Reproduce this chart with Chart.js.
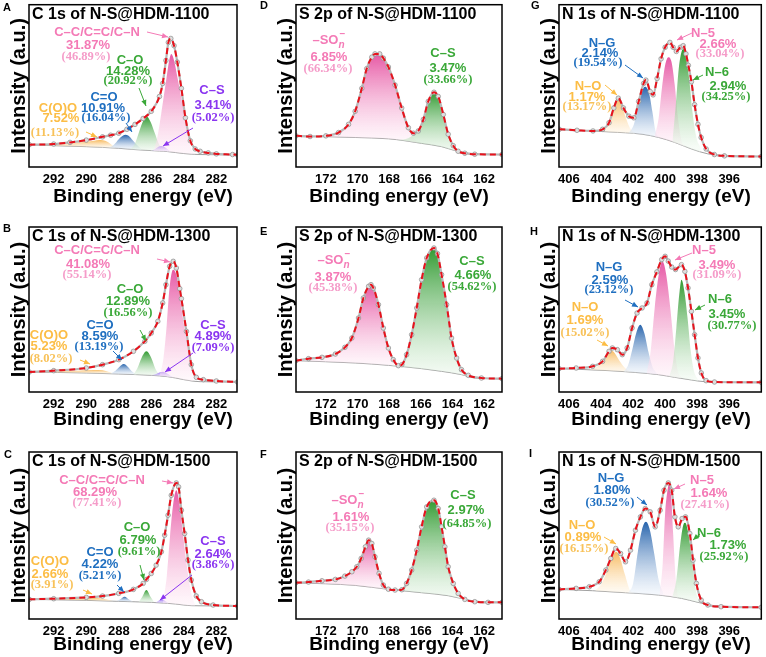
<!DOCTYPE html>
<html>
<head>
<meta charset="utf-8">
<script src="https://cdn.jsdelivr.net/npm/chart.js"></script>
<style>
  body { margin: 0; background: #fff; width: 766px; height: 657px; position: relative; overflow: hidden; }
  canvas { position: absolute; }
</style>
</head>
<body>
<canvas id="pA"></canvas><canvas id="pD"></canvas><canvas id="pG"></canvas>
<canvas id="pB"></canvas><canvas id="pE"></canvas><canvas id="pH"></canvas>
<canvas id="pC"></canvas><canvas id="pF"></canvas><canvas id="pI"></canvas>
<script>
// x ranges (binding energy, eV) and tick labels
const rangeC1s = [280.73, 293.52];
const rangeS2p = [160.87, 173.89];
const rangeN1s = [394.0, 406.62];
const ticksC1s = [292, 290, 288, 286, 284, 282];
const ticksS2p = [172, 170, 168, 166, 164, 162];
const ticksN1s = [406, 404, 402, 400, 398, 396];

// ---- A: C 1s, HDM-1100 ----
const envA = [[293.5,13.6],[292,14],[291,15],[290,16.4],[289,18.4],[288.5,19.4],[288,20.6],[287.5,23],[287,26],[286.5,29.6],[286,34],[285.5,43],[285.3,51],[285.1,65],[284.95,76],[284.8,78.4],[284.6,74],[284.4,64],[284.15,48],[283.9,30],[283.6,16],[283.3,11],[283,9.6],[282.5,8.6],[282,8],[281,7.6],[280.7,7.4]];
const baseA = [[293.5,13.6],[292,13],[290,12.4],[288,11.4],[287,10.6],[286,10],[285,9.4],[284.5,8.8],[284,8.2],[283.5,7.8],[283,7.6],[280.7,7.4]];
const a_coo = [[293.5,13.6],[292,13.9],[291,14.5],[290,15.4],[289.5,16],[289.2,16.4],[288.8,15.8],[288.5,14],[288.2,11.6]];
const a_cdo = [[288.6,11.8],[288.3,13.6],[288,17],[287.8,18.8],[287.6,19.6],[287.4,19],[287.2,17],[286.9,13.6],[286.6,10.8]];
const a_co  = [[287.3,10.8],[287,14.4],[286.8,20],[286.55,27],[286.3,31],[286.05,27.6],[285.8,21],[285.55,14.4],[285.2,9.6]];
const a_cs  = [[286,9.8],[285.75,11],[285.55,12.4],[285.38,12.8],[285.2,12.2],[285,10.8],[284.8,9.3]];
const a_cc  = [[285.85,9.8],[285.59,20],[285.28,40],[285.07,54],[284.9,65],[284.77,69],[284.6,65],[284.4,55],[284.15,42],[283.84,24],[283.54,11],[283.3,8]];

// ---- B: C 1s, HDM-1300 ----
const envB = [[293.5,12],[292,12.8],[290,14.4],[289,16.4],[288,19.4],[287.1,24.4],[286.4,30.4],[286,35.4],[285.6,42.4],[285.3,53.4],[285.1,64.4],[284.87,75.4],[284.65,78.4],[284.46,74.4],[284.25,62],[284.15,56],[283.84,36.4],[283.54,16.4],[283.23,8.8],[282.8,7.4],[282,6.6],[280.7,6]];
const baseB = [[293.5,12],[290,11.4],[288,10.8],[286,10],[285,9.2],[284.5,8.4],[284,7.4],[283.5,6.6],[283,6.2],[280.7,6]];
const b_coo = [[293.5,12],[292,12.4],[290.5,12.8],[289.5,13.2],[289,13],[288.6,12],[288.3,11]];
const b_cdo = [[288.5,11],[288.2,12.8],[287.95,15.2],[287.7,16.8],[287.45,15.2],[287.2,12.4],[286.9,10.6]];
const b_co  = [[287.1,10.4],[286.85,14.4],[286.6,20.4],[286.3,24.4],[286,20.4],[285.75,14],[285.45,9.6]];
const b_cs  = [[286,10],[285.7,10.8],[285.45,11.8],[285.28,12.2],[285.05,11.2],[284.8,9.6],[284.6,8.6]];
const b_cc  = [[285.5,9.2],[285.25,20.4],[285.05,40.4],[284.88,62.4],[284.66,73.4],[284.45,70],[284.25,58],[284.05,44],[283.84,32],[283.6,16],[283.4,8]];

// ---- C: C 1s, HDM-1500 ----
const envC = [[293.5,11.8],[292,12.2],[290,13],[289,13.8],[288,15.4],[287.1,17.8],[286.5,21.4],[286.3,23.8],[286,27.4],[285.7,32.4],[285.38,40.4],[285.18,50.4],[284.97,62.4],[284.77,74.4],[284.46,81.8],[284.32,79.4],[284.15,65.4],[283.95,51.4],[283.74,35.4],[283.54,23.4],[283.23,13.8],[282.92,10.4],[282.2,8.4],[280.7,7.8]];
const baseC = [[293.5,11.8],[290,11.2],[288,10.6],[286,10],[285,9.4],[284.5,9],[284,8.4],[283.5,8],[280.7,7.8]];
const c_coo = [[293.5,11.8],[292,12],[290.5,12.4],[289.5,12.6],[289,12.2],[288.6,11.4],[288.3,10.6]];
const c_cdo = [[288.2,10.6],[287.95,11.6],[287.64,13.4],[287.35,11.6],[287.1,10.4]];
const c_co  = [[286.8,10],[286.55,13.4],[286.3,17.4],[286.05,13.4],[285.8,9.8]];
const c_cs  = [[285.8,9.6],[285.55,11],[285.38,11.8],[285.15,10.8],[284.9,9.2]];
const c_cc  = [[285.3,9.4],[285.05,25.4],[284.85,49.4],[284.65,69.4],[284.46,77.4],[284.27,69.4],[284.05,51],[283.8,31],[283.55,16],[283.3,8.4]];

// ---- D: S 2p, HDM-1100 ----
const envD = [[173.89,19],[173,18.6],[172,19],[171.2,21],[170.57,26],[170.15,34],[169.73,48],[169.42,60],[169.1,67],[168.9,69],[168.6,69],[168.37,66.4],[168.05,61],[167.63,50],[167.21,36],[166.79,24],[166.47,20.6],[166.16,22],[165.84,29],[165.53,40],[165.17,45.6],[164.9,43],[164.58,32],[164.27,20],[163.95,13],[163.64,9.6],[163.22,8.4],[162.59,7.8],[160.87,7.6]];
const baseD = [[173.89,19],[170.15,18],[168.05,17.2],[167,16],[165.95,14.4],[164.69,12.4],[163.85,10],[163,8.4],[160.87,7.6]];
const d_so = [[173.89,19],[172,19.2],[171.2,21],[170.57,26],[170.15,34],[169.73,48],[169.42,60],[169.1,67],[168.9,69],[168.6,69],[168.37,66.4],[168.05,61],[167.63,50],[167.21,36],[166.79,23],[166.47,18],[166.2,15.5]];
const d_cs = [[167.4,16.3],[166.8,17.5],[166.47,19.5],[166.16,22],[165.84,29],[165.53,40],[165.17,45.6],[164.9,43],[164.58,32],[164.27,20],[163.95,13],[163.64,9.8],[163.2,8.5]];

// ---- E: S 2p, HDM-1300 ----
const envE = [[173.9,18.8],[173.1,20],[172.25,20.8],[171.4,22.8],[170.8,26.8],[170.36,32.4],[169.94,44.4],[169.63,56.4],[169.3,63.4],[169.15,64.4],[169,62.4],[168.68,52.4],[168.37,38.4],[168.05,26.4],[167.74,19.4],[167.42,15.8],[167.2,16.4],[166.9,22.4],[166.58,34.4],[166.26,50.4],[165.95,67.4],[165.63,80.4],[165.17,86.4],[164.95,83],[164.69,70.4],[164.37,52.4],[164.06,32.4],[163.74,20.4],[163.43,13.4],[163,10],[162.17,8.4],[160.87,8]];
const baseE = [[173.9,18.8],[170.15,17.4],[168.05,16],[165.95,14],[164.69,12.4],[163.43,10.4],[162.59,8.4],[160.87,8]];
const e_so = [[173.9,18.8],[173.1,20],[172.25,20.8],[171.4,22.8],[170.8,26.8],[170.36,32.4],[169.94,44.4],[169.63,56.4],[169.3,63.4],[169.15,64.4],[169,62.4],[168.68,52.4],[168.37,38.4],[168.05,26],[167.74,19],[167.42,16.2],[167.1,15.7]];
const e_cs = [[167.8,16.3],[167.42,16],[167.2,16.8],[166.9,22.4],[166.58,34.4],[166.26,50.4],[165.95,67.4],[165.63,80.4],[165.17,86.4],[164.95,83],[164.69,70.4],[164.37,52.4],[164.06,32.4],[163.74,20.4],[163.43,13.4],[163,10],[162.6,8.8]];

// ---- F: S 2p, HDM-1500 ----
const envF = [[173.9,21.8],[173.1,22.2],[172.25,23],[171.4,23.8],[170.8,25.8],[170.36,28.4],[170.05,31.4],[169.77,36.4],[169.5,43.4],[169.3,47.4],[169.1,45.4],[168.9,37.4],[168.64,27.4],[168.37,20.4],[168.05,17.9],[167.63,17.4],[167.2,17.6],[166.9,21.4],[166.58,29.4],[166.26,41.4],[165.95,55.4],[165.63,67.4],[165.17,71.4],[164.9,66.4],[164.69,55.4],[164.48,43.4],[164.27,31.4],[163.95,21.4],[163.64,15.4],[163.22,11.8],[162.59,10.4],[161.75,10],[160.87,10]];
const baseF = [[173.9,21.8],[170.15,20.2],[168.05,17.8],[165.95,15.8],[164.27,14],[163,11.4],[161.96,10.2],[160.87,10]];
const f_so = [[173.9,21.8],[173.1,22.2],[172.25,23],[171.4,23.8],[170.8,25.8],[170.36,28.4],[170.05,31.4],[169.77,36.4],[169.5,43.4],[169.3,47.4],[169.1,45.4],[168.9,37.4],[168.64,27.4],[168.37,20.4],[168.05,18],[167.8,17.6]];
const f_cs = [[167.5,17.3],[167.2,17.4],[166.9,21],[166.58,29.4],[166.26,41.4],[165.95,55.4],[165.63,67.4],[165.17,71.4],[164.9,66.4],[164.69,55.4],[164.48,43.4],[164.27,31.4],[163.95,21.4],[163.64,15.4],[163.22,11.8],[162.8,10.8]];

// ---- G: N 1s, HDM-1100 ----
const envG = [[406.6,23],[405.5,22.4],[404.5,22],[403.9,23],[403.5,27],[403.2,36],[402.92,42],[402.6,36],[402.26,31],[401.95,30],[401.65,40],[401.34,51],[401.2,53],[400.93,46],[400.75,44],[400.5,54],[400.25,66],[400,73],[399.7,76],[399.5,73],[399.3,70.5],[399.05,73],[398.87,74],[398.7,69],[398.55,62],[398.36,52],[398.16,38],[397.95,26],[397.75,18],[397.44,11],[396.93,7.6],[396.3,6.8],[394,6.4]];
const baseG = [[406.6,23],[403.5,21.4],[401.44,20],[400.4,18],[399.4,15],[398.36,11],[397.33,8],[396.3,6.8],[394,6.4]];
const g_no = [[404.1,21.8],[403.7,24.4],[403.4,30],[403.15,38],[402.92,42],[402.7,38],[402.45,30],[402.15,23],[401.8,20]];
const g_ng = [[402.3,20.4],[401.95,26],[401.7,36],[401.45,46],[401.25,49],[401,45],[400.8,34],[400.6,22],[400.4,18]];
const g_n5 = [[400.65,18.6],[400.4,30],[400.2,48],[400,62],[399.8,67],[399.6,64],[399.4,50],[399.2,30],[398.95,15],[398.75,13]];
const g_n6 = [[399.55,15],[399.35,36],[399.15,60],[398.95,71],[398.85,72],[398.7,67],[398.5,54],[398.3,34],[398.05,18],[397.8,12]];

// ---- H: N 1s, HDM-1300 ----
const envH = [[406.62,14],[405.55,14.4],[404.52,15.4],[403.9,18.4],[403.5,24.4],[403.29,26.4],[402.98,25.4],[402.67,22.4],[402.37,26.4],[402.06,38.4],[401.75,47.4],[401.44,50.4],[401.13,53.4],[400.83,64.4],[400.52,72],[400.21,79.5],[400,81.4],[399.8,78.5],[399.59,75],[399.35,73.5],[398.98,76.4],[398.77,72.4],[398.57,62.4],[398.36,48.4],[398.16,34.4],[397.95,20.4],[397.74,11.4],[397.44,6.8],[396.92,6],[394,5.8]];
const baseH = [[406.62,14],[403.5,12.8],[401.44,11.4],[400.42,10.4],[399.4,8.8],[398.36,7.2],[397.54,6.2],[394,5.8]];
const h_no = [[404.7,13.4],[404.2,15.4],[403.85,19.4],[403.6,23.4],[403.4,25.2],[403.15,23.4],[402.85,18.8],[402.5,14.4],[402.1,12],[401.8,11.4]];
const h_ng = [[402.6,12],[402.3,16.4],[402.05,25.4],[401.8,35.4],[401.55,40.4],[401.3,35.4],[401.05,24.4],[400.8,15.4],[400.5,10.8]];
const h_n5 = [[401.15,11.2],[400.9,24.4],[400.65,50.4],[400.4,70.4],[400.17,78.4],[399.95,71.4],[399.7,52.4],[399.45,28.4],[399.2,12.4],[399,8.8]];
const h_n6 = [[399.75,8.8],[399.5,18.4],[399.3,38.4],[399.12,58.4],[398.98,67.4],[398.8,60.4],[398.6,44.4],[398.4,24.4],[398.2,12.4],[397.95,7.4]];

// ---- I: N 1s, HDM-1500 ----
const envI = [[406.62,17.8],[405.55,18.4],[404.73,19.4],[404.11,22.4],[403.7,29.4],[403.39,36.4],[403.08,42.4],[402.78,39.4],[402.47,34.4],[402.16,41.4],[401.85,53.4],[401.54,61.4],[401.24,66.4],[400.93,64.4],[400.62,55.4],[400.31,65.4],[400.07,77.4],[399.8,81.8],[399.59,77.4],[399.39,61.4],[399.18,55.4],[398.94,60.4],[398.73,61.4],[398.46,51.4],[398.26,35.4],[398.05,21.4],[397.75,11.4],[397.33,8.4],[396.51,7.4],[394,7]];
const baseI = [[406.62,17.8],[404.52,17],[402.47,15.8],[400.41,14.4],[398.98,12.4],[397.95,10],[396.92,8],[394,7]];
const i_no = [[404.35,17.4],[403.95,21.4],[403.6,29.4],[403.3,37.4],[403.05,40.4],[402.8,36.4],[402.5,26.4],[402.2,17.4],[401.95,15.8]];
const i_ng = [[402.3,15.8],[402,21.4],[401.7,40.4],[401.45,53.4],[401.2,58.4],[400.95,53.4],[400.7,40.4],[400.4,23.4],[400.1,15]];
const i_n5 = [[400.35,14.6],[400.15,33.4],[400,63.4],[399.85,77.4],[399.76,81],[399.62,73.4],[399.5,51.4],[399.35,25.4],[399.2,13.4]];
const i_n6 = [[399.55,13],[399.3,23.4],[399.05,45.4],[398.85,57],[398.75,57.8],[398.55,51.4],[398.3,33.4],[398.05,15.4],[397.8,10.4]];

// ---- styling ----
const SANS = '"Liberation Sans", Arial, sans-serif';
const SERIF = '"Liberation Serif", "Times New Roman", serif';
const PAL = {
  pink:   { text: '#f47ab6', rel: '#f59cc9', top: 'rgba(229,80,160,0.95)', bot: 'rgba(255,238,247,0.45)' },
  green:  { text: '#3aa838', rel: '#3aa838', top: 'rgba(40,150,40,0.95)',  bot: 'rgba(236,248,236,0.45)' },
  blue:   { text: '#1f6fc0', rel: '#1f6fc0', top: 'rgba(28,92,168,0.95)',  bot: 'rgba(232,240,250,0.45)' },
  orange: { text: '#fcbd45', rel: '#f8c25a', top: 'rgba(246,175,70,0.85)', bot: 'rgba(255,246,230,0.45)' },
  purple: { text: '#8a35f0', rel: '#8a35f0', top: 'rgba(135,85,240,0.85)', bot: 'rgba(242,236,255,0.45)' }
};

function L(c, name, nx, ny, pct, px, py, rel, rx, ry, arrow) {
  return { c, name, nx, ny, pct, px, py, rel, rx, ry, arrow };
}

const labelsA = [
  L('pink','C–C/C=C/C–N',97,32,'31.87%',88,45,'(46.89%)',86,57,[147,32,168,37]),
  L('green','C–O',130,60,'14.28%',128,71,'(20.92%)',128,81,[139,88,146,106]),
  L('blue','C=O',104,97,'10.91%',103,108,'(16.04%)',106,118,[126,123,132,132]),
  L('orange','C(O)O',58,108,'7.52%',61,118,'(11.13%)',55,133,[86,132,97,137]),
  L('purple','C–S',212,90,'3.41%',213,105,'(5.02%)',213,118,[193,128,163,146])
];
const labelsB = [
  L('pink','C–C/C=C/C–N',97,32,'41.08%',88,46,'(55.14%)',87,57,[157,41,170,44]),
  L('green','C–O',130,71,'12.89%',128,83,'(16.56%)',128,95,[140,112,146,123]),
  L('blue','C=O',100,107,'8.59%',100,118,'(13.19%)',99,129,[113,133,122,142]),
  L('orange','C(O)O',49,117,'5.23%',49,128,'(8.02%)',51,141,[80,142,90,146]),
  L('purple','C–S',213,107,'4.89%',213,118,'(7.09%)',213,130,[193,135,165,154])
];
const labelsC = [
  L('pink','C–C/C=C/C–N',102,43,'68.29%',95,55,'(77.41%)',97,66,[162,44,173,46]),
  L('green','C–O',137,90,'6.79%',138,103,'(9.61%)',139,115,[140,128,144,143]),
  L('blue','C=O',100,115,'4.22%',100,127,'(5.21%)',100,139,[117,148,124,155]),
  L('orange','C(O)O',50,124,'2.66%',50,137,'(3.91%)',52,148,[83,153,92,157]),
  L('purple','C–S',213,104,'2.64%',213,117,'(3.86%)',213,128,[192,138,160,163])
];
const labelsD = [
  L('pink','SOn',75,40,'6.85%',74,57,'(66.34%)',73,69,null),
  L('green','C–S',188,53,'3.47%',193,68,'(33.66%)',193,80,null)
];
const labelsE = [
  L('pink','SOn',80,42,'3.87%',78,59,'(45.38%)',78,70,null),
  L('green','C–S',217,43,'4.66%',218,57,'(54.62%)',217,69,null)
];
const labelsF = [
  L('pink','SOn',94,63,'1.61%',96,80,'(35.15%)',95,91,null),
  L('green','C–S',208,58,'2.97%',211,73,'(64.85%)',212,87,null)
];
const labelsG = [
  L('blue','N–G',92,43,'2.14%',90,53,'(19.54%)',88,63,[115,65,133,78]),
  L('orange','N–O',78,86,'1.17%',77,97,'(13.17%)',77,107,[95,85,107,95]),
  L('pink','N–5',193,33,'2.66%',208,44,'(33.04%)',210,54,[182,33,167,40]),
  L('green','N–6',207,72,'2.94%',218,86,'(34.25%)',216,97,[193,75,183,80])
];
const labelsH = [
  L('blue','N–G',99,49,'2.59%',100,62,'(23.12%)',99,72,[115,82,128,89]),
  L('orange','N–O',75,89,'1.69%',75,102,'(15.02%)',75,115,[87,122,98,128]),
  L('pink','N–5',194,32,'3.49%',207,47,'(31.09%)',207,57,[182,35,165,42]),
  L('green','N–6',210,81,'3.45%',217,96,'(30.77%)',222,108,[195,87,185,92])
];
const labelsI = [
  L('blue','N–G',101,41,'1.80%',102,53,'(30.52%)',100,66,[127,60,137,68]),
  L('orange','N–O',72,88,'0.89%',73,100,'(16.15%)',74,112,[94,100,106,107]),
  L('pink','N–5',192,43,'1.64%',199,56,'(27.41%)',195,68,[175,47,164,52]),
  L('green','N–6',199,96,'1.73%',218,108,'(25.92%)',214,120,[190,97,183,103])
];

// panel geometry (frame edges inside each canvas)
const COLS = [
  { x: 0,   w: 255, fl: 29, fr: 237, xt: 143 },
  { x: 255, w: 255, fl: 41, fr: 247, xt: 144 },
  { x: 510, w: 256, fl: 49, fr: 254, xt: 151 }
];
const ROWS = [
  { y: 0,   h: 218, ft: 3,  fb: 167, xty: 197, ymax: 99 },
  { y: 218, h: 219, ft: 9,  fb: 174, xty: 202, ymax: 99 },
  { y: 437, h: 220, ft: 15, fb: 182, xty: 208, ymax: 100.4 }
];

const panels = [
  { id:'A', col:0, row:0, letter:[3,8],   range:rangeC1s, ticks:ticksC1s, title:'C 1s of N-S@HDM-1100', env:envA, base:baseA,
    peaks:[['pink',a_cc],['purple',a_cs],['green',a_co],['blue',a_cdo],['orange',a_coo]], labels:labelsA },
  { id:'B', col:0, row:1, letter:[3,11],  range:rangeC1s, ticks:ticksC1s, title:'C 1s of N-S@HDM-1300', env:envB, base:baseB,
    peaks:[['pink',b_cc],['purple',b_cs],['green',b_co],['blue',b_cdo],['orange',b_coo]], labels:labelsB },
  { id:'C', col:0, row:2, letter:[4,18],  range:rangeC1s, ticks:ticksC1s, title:'C 1s of N-S@HDM-1500', env:envC, base:baseC,
    peaks:[['pink',c_cc],['purple',c_cs],['green',c_co],['blue',c_cdo],['orange',c_coo]], labels:labelsC },
  { id:'D', col:1, row:0, letter:[5,6],   range:rangeS2p, ticks:ticksS2p, title:'S 2p of N-S@HDM-1100', env:envD, base:baseD,
    peaks:[['green',d_cs],['pink',d_so]], labels:labelsD },
  { id:'E', col:1, row:1, letter:[5,14],  range:rangeS2p, ticks:ticksS2p, title:'S 2p of N-S@HDM-1300', env:envE, base:baseE,
    peaks:[['green',e_cs],['pink',e_so]], labels:labelsE },
  { id:'F', col:1, row:2, letter:[5,18],  range:rangeS2p, ticks:ticksS2p, title:'S 2p of N-S@HDM-1500', env:envF, base:baseF,
    peaks:[['green',f_cs],['pink',f_so]], labels:labelsF },
  { id:'G', col:2, row:0, letter:[21,6],  range:rangeN1s, ticks:ticksN1s, title:'N 1s of N-S@HDM-1100', env:envG, base:baseG,
    peaks:[['green',g_n6],['pink',g_n5],['blue',g_ng],['orange',g_no]], labels:labelsG },
  { id:'H', col:2, row:1, letter:[20,14], range:rangeN1s, ticks:ticksN1s, title:'N 1s of N-S@HDM-1300', env:envH, base:baseH,
    peaks:[['green',h_n6],['pink',h_n5],['blue',h_ng],['orange',h_no]], labels:labelsH },
  { id:'I', col:2, row:2, letter:[19,17], range:rangeN1s, ticks:ticksN1s, title:'N 1s of N-S@HDM-1500', env:envI, base:baseI,
    peaks:[['green',i_n6],['pink',i_n5],['blue',i_ng],['orange',i_no]], labels:labelsI }
];

const LABEL_FONT = 'bold 13px ' + SANS;
const REL_FONT = 'bold 12.5px ' + SERIF;

function peakFill(pal, pts) {
  const hi = Math.max(...pts.map(p => p[1]));
  const lo = Math.min(...pts.map(p => p[1]));
  return (ctx) => {
    const ch = ctx.chart, ys = ch.scales.y;
    if (!ch.chartArea || !ys) return pal.top;
    const g = ch.ctx.createLinearGradient(0, ys.getPixelForValue(hi), 0, ys.getPixelForValue(lo));
    g.addColorStop(0, pal.top);
    g.addColorStop(1, pal.bot);
    return g;
  };
}

function arrow(ctx, a, color) {
  const [x1, y1, x2, y2] = a;
  ctx.save();
  ctx.strokeStyle = color; ctx.fillStyle = color; ctx.lineWidth = 1;
  ctx.beginPath(); ctx.moveTo(x1, y1); ctx.lineTo(x2, y2); ctx.stroke();
  const t = Math.atan2(y2 - y1, x2 - x1), len = 6, hw = 2.6;
  ctx.beginPath();
  ctx.moveTo(x2, y2);
  ctx.lineTo(x2 - len * Math.cos(t) + hw * Math.sin(t), y2 - len * Math.sin(t) - hw * Math.cos(t));
  ctx.lineTo(x2 - len * Math.cos(t) - hw * Math.sin(t), y2 - len * Math.sin(t) + hw * Math.cos(t));
  ctx.closePath(); ctx.fill();
  ctx.restore();
}

function drawSO(ctx, cx, cy, color) {
  ctx.save();
  ctx.fillStyle = color;
  ctx.textBaseline = 'middle';
  ctx.textAlign = 'left';
  ctx.font = LABEL_FONT;
  const w1 = ctx.measureText('–SO').width;
  ctx.font = 'italic bold 10px ' + SANS;
  const w2 = ctx.measureText('n').width;
  const x0 = cx - (w1 + w2 + 3) / 2;
  ctx.font = LABEL_FONT;
  ctx.fillText('–SO', x0, cy);
  ctx.font = 'italic bold 10px ' + SANS;
  ctx.fillText('n', x0 + w1, cy + 5);
  ctx.font = 'bold 10px ' + SANS;
  ctx.fillText('–', x0 + w1 + 1, cy - 6);
  ctx.restore();
}

function makeDecor(p, col, row) {
  return {
    id: 'decor' + p.id,
    afterDatasetsDraw(chart) {
      const { ctx, chartArea: a } = chart;
      ctx.save();
      ctx.strokeStyle = '#000';
      ctx.lineWidth = 1.5;
      ctx.strokeRect(a.left, a.top, a.right - a.left, a.bottom - a.top);
      ctx.restore();
    },
    afterDraw(chart) {
      const { ctx, chartArea: a } = chart;
      ctx.save();
      ctx.fillStyle = '#000';
      ctx.textBaseline = 'middle';
      // panel letter
      ctx.textAlign = 'left';
      ctx.font = 'bold 11px ' + SANS;
      ctx.fillText(p.id, p.letter[0], p.letter[1]);
      // panel title
      ctx.font = 'bold 16px ' + SANS;
      ctx.fillText(p.title, a.left + 3, a.top + 10);
      // x axis title
      ctx.textAlign = 'center';
      ctx.font = 'bold 19px ' + SANS;
      ctx.fillText('Binding energy (eV)', col.xt, row.xty);
      // peak labels
      p.labels.forEach(l => {
        const pal = PAL[l.c];
        ctx.textAlign = 'center';
        if (l.name === 'SOn') {
          drawSO(ctx, l.nx, l.ny, pal.text);
        } else {
          ctx.fillStyle = pal.text;
          ctx.font = LABEL_FONT;
          ctx.fillText(l.name, l.nx, l.ny);
        }
        ctx.fillStyle = pal.text;
        ctx.font = LABEL_FONT;
        ctx.fillText(l.pct, l.px, l.py);
        ctx.fillStyle = pal.rel;
        ctx.font = REL_FONT;
        ctx.fillText(l.rel, l.rx, l.ry);
        if (l.arrow) arrow(ctx, l.arrow, pal.text);
      });
      ctx.restore();
    }
  };
}

panels.forEach(p => {
  const col = COLS[p.col], row = ROWS[p.row];
  const cv = document.getElementById('p' + p.id);
  cv.width = col.w; cv.height = row.h;
  cv.style.left = col.x + 'px'; cv.style.top = row.y + 'px';
  cv.style.width = col.w + 'px'; cv.style.height = row.h + 'px';

  const baseIdx = 2 + p.peaks.length;
  const datasets = [
    { label: 'fit', data: p.env, borderColor: '#e8121c', borderWidth: 2, borderDash: [6, 4],
      pointRadius: 0, fill: false, cubicInterpolationMode: 'monotone' },
    { label: 'raw', data: p.env, borderColor: '#b8b8b8', borderWidth: 2.2,
      pointRadius: 2.3, pointBackgroundColor: '#dedede', pointBorderColor: '#8c8c8c', pointBorderWidth: 0.7,
      fill: false, cubicInterpolationMode: 'monotone' }
  ];
  p.peaks.forEach(([c, pts]) => {
    datasets.push({ label: c, data: pts, borderColor: 'rgba(0,0,0,0)', borderWidth: 0, pointRadius: 0,
      backgroundColor: peakFill(PAL[c], pts), fill: { target: baseIdx }, cubicInterpolationMode: 'monotone' });
  });
  datasets.push({ label: 'background', data: p.base, borderColor: '#a0a0a0', borderWidth: 1,
    pointRadius: 0, fill: false, cubicInterpolationMode: 'monotone' });

  new Chart(cv, {
    type: 'line',
    data: { datasets },
    options: {
      responsive: false,
      animation: false,
      devicePixelRatio: 1,
      layout: { padding: { left: col.fl - 22, right: col.w - col.fr, top: row.ft, bottom: 0 } },
      plugins: { legend: { display: false }, tooltip: { enabled: false } },
      scales: {
        x: {
          type: 'linear', reverse: true, min: p.range[0], max: p.range[1],
          afterBuildTicks: s => { s.ticks = p.ticks.map(v => ({ value: v })); },
          ticks: { font: { family: SANS, size: 13, weight: 'bold' }, color: '#000', padding: 5, maxRotation: 0, autoSkip: false },
          grid: { display: false, drawTicks: false },
          border: { display: false },
          afterFit: s => { s.height = row.h - row.fb; }
        },
        y: {
          min: 0, max: row.ymax,
          ticks: { display: false },
          grid: { display: false, drawTicks: false },
          border: { display: false },
          title: { display: true, text: 'Intensity (a.u.)', color: '#000', padding: 0,
                   font: { family: SANS, size: 20, weight: 'bold' } },
          afterFit: s => { s.width = 22; }
        }
      }
    },
    plugins: [makeDecor(p, col, row)]
  });
});
</script>
</body>
</html>
